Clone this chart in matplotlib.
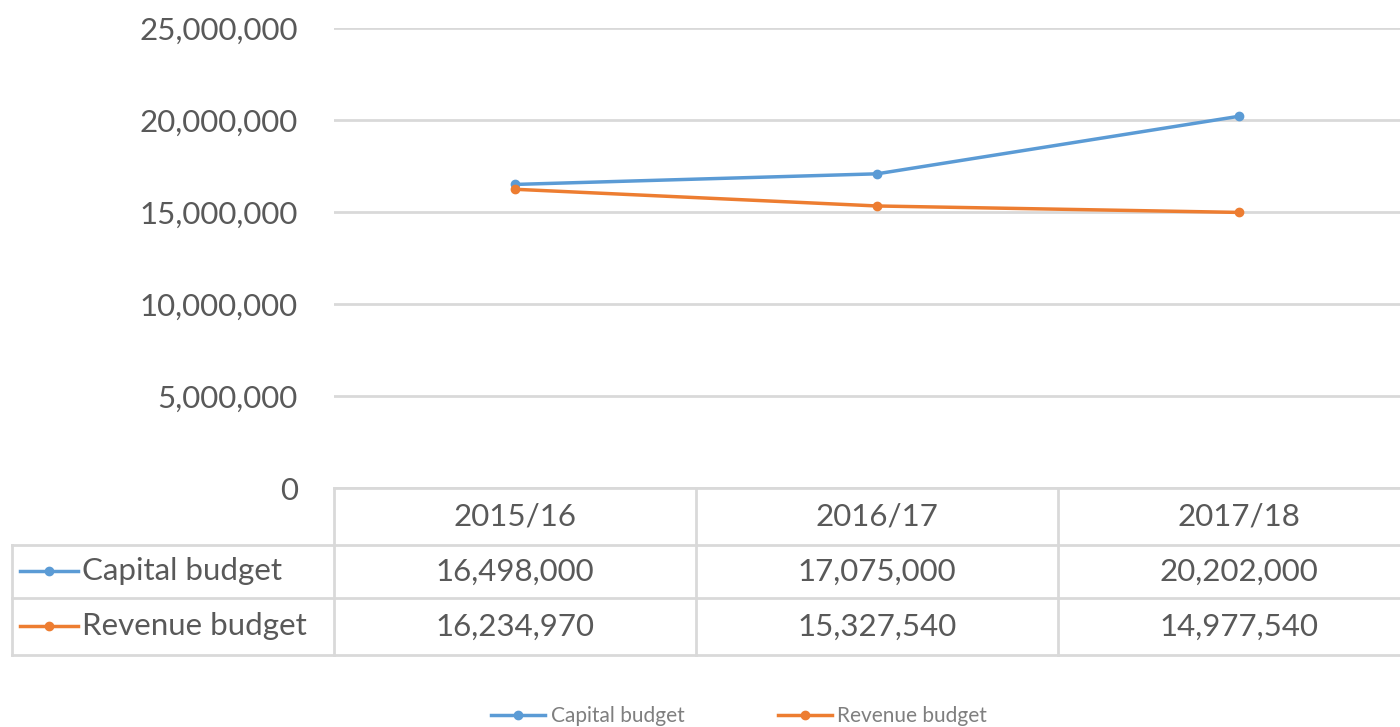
import numpy as np
import matplotlib.pyplot as plt
from matplotlib import transforms
from matplotlib.ticker import FuncFormatter

# budget figures
years = ['2015/16', '2016/17', '2017/18']
capital = [16498000, 17075000, 20202000]
revenue = [16234970, 15327540, 14977540]
series_names = ['Capital budget', 'Revenue budget']
y_ticks = [0, 5000000, 10000000, 15000000, 20000000, 25000000]

blue = '#5B9BD5'
orange = '#ED7D31'
grid_c = '#D9D9D9'
text_c = '#595959'

plt.rcParams['font.family'] = ['Lato', 'DejaVu Sans']

W, H = 1400, 727
fig = plt.figure(figsize=(W / 100, H / 100), dpi=100)
# plot area runs past the right edge, as in the reference
ax = fig.add_axes([334 / W, 1 - 488 / H, 1086 / W, 460 / H])

x = np.arange(len(years))
series = [capital, revenue]
colors = [blue, orange]
for vals, c, name in zip(series, colors, series_names):
    ax.plot(x, vals, color=c, lw=2.5, marker='o', ms=6, label=name)

ax.set_xlim(-0.5, len(years) - 0.5)
ax.set_ylim(0, 25000000)
ax.set_yticks(y_ticks)
ax.yaxis.set_major_formatter(FuncFormatter(lambda v, p: f'{int(v):,}'))
ax.tick_params(axis='y', length=0, pad=26, labelsize=22.5, labelcolor=text_c)
ax.set_xticks([])
ax.grid(axis='y', color=grid_c, lw=2)
ax.set_axisbelow(True)
for s in ['left', 'right', 'top']:
    ax.spines[s].set_visible(False)
ax.spines['bottom'].set_color(grid_c)
ax.spines['bottom'].set_linewidth(2)

## data table under the axis
blend = transforms.blended_transform_factory(ax.transData, ax.transAxes)
row_edges = [0, -0.124, -0.239, -0.363]
row_mid = [(row_edges[i] + row_edges[i + 1]) / 2 for i in range(3)]
left_edge = -0.2965
line_kw = dict(color=grid_c, lw=2, clip_on=False)

for yb in row_edges[1:]:
    ax.plot([left_edge, 1.0], [yb, yb], transform=ax.transAxes, **line_kw)
ax.plot([left_edge, left_edge], [row_edges[1], row_edges[3]], transform=ax.transAxes, **line_kw)
for xb in np.arange(len(years) + 1) - 0.5:
    ax.plot([xb, xb], [0, row_edges[3]], transform=blend, **line_kw)

for i, yr in enumerate(years):
    ax.text(i, row_mid[0], yr, transform=blend, ha='center', va='center',
            fontsize=22.5, color=text_c)
    for r, vals in enumerate(series):
        ax.text(i, row_mid[r + 1], f'{vals[i]:,}', transform=blend,
                ha='center', va='center', fontsize=22.5, color=text_c)

for r, (c, name) in enumerate(zip(colors, series_names)):
    yy = row_mid[r + 1]
    ax.plot([-0.289, -0.2357], [yy, yy], transform=ax.transAxes, color=c, lw=2.5, clip_on=False)
    ax.plot([-0.262], [yy], transform=ax.transAxes, color=c, marker='o', ms=6, clip_on=False)
    ax.text(-0.232, yy, name, transform=ax.transAxes, ha='left', va='center',
            fontsize=22.5, color=text_c)

fig.legend(loc='center', bbox_to_anchor=(0.528, 1 - 716 / H), ncol=2, frameon=False,
           fontsize=15, handlelength=2.6, handletextpad=0.25, columnspacing=4.5,
           labelcolor='#7F7F7F')

plt.savefig('out.png', dpi=100)
